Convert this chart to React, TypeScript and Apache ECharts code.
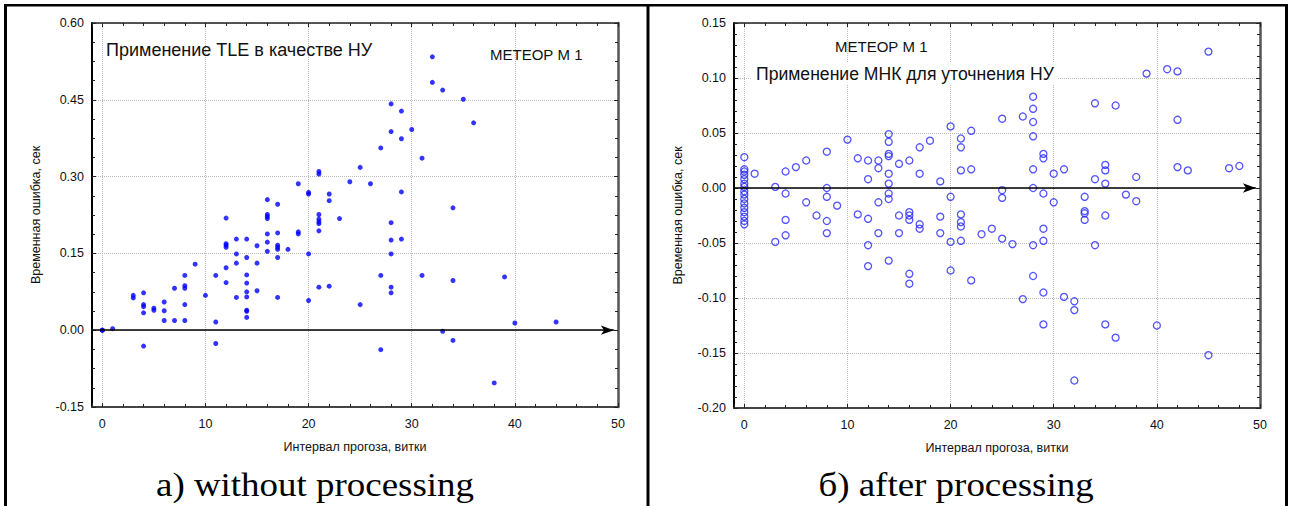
import React, { useEffect, useRef } from "react";
import * as echarts from "echarts";

// a) TLE as initial conditions: [interval (turns), time error (s)]
const tlePoints: [number, number][] = [
  [0, 0], [0, 0], [0, 0], [1, 0.003],
  [3, 0.068], [3, 0.063],
  [4, 0.073], [4, 0.05], [4, 0.046], [4, 0.034], [4, -0.031],
  [5, 0.043], [5, 0.039],
  [6, 0.055], [6, 0.038], [6, 0.019],
  [7, 0.082], [7, 0.019],
  [8, 0.107], [8, 0.087], [8, 0.082], [8, 0.05], [8, 0.019],
  [9, 0.129],
  [10, 0.068],
  [11, 0.107], [11, 0.016], [11, -0.026],
  [12, 0.219], [12, 0.169], [12, 0.166], [12, 0.162], [12, 0.122], [12, 0.093],
  [13, 0.178], [13, 0.149], [13, 0.131], [13, 0.064],
  [14, 0.178], [14, 0.142], [14, 0.108], [14, 0.092], [14, 0.075], [14, 0.065], [14, 0.039], [14, 0.037], [14, 0.025],
  [15, 0.165], [15, 0.131], [15, 0.077],
  [16, 0.255], [16, 0.226], [16, 0.222], [16, 0.218], [16, 0.188], [16, 0.172], [16, 0.154],
  [17, 0.246], [17, 0.19], [17, 0.166], [17, 0.162], [17, 0.158], [17, 0.142], [17, 0.064],
  [18, 0.158],
  [19, 0.286], [19, 0.192], [19, 0.188],
  [20, 0.269], [20, 0.266], [20, 0.149], [20, 0.058],
  [21, 0.31], [21, 0.305], [21, 0.226], [21, 0.217], [21, 0.212], [21, 0.208], [21, 0.194], [21, 0.084],
  [22, 0.266], [22, 0.253], [22, 0.086],
  [23, 0.218],
  [24, 0.29],
  [25, 0.318], [25, 0.05],
  [26, 0.286],
  [27, 0.356], [27, 0.107], [27, -0.038],
  [28, 0.442], [28, 0.388], [28, 0.21], [28, 0.176], [28, 0.149], [28, 0.084], [28, 0.073],
  [29, 0.428], [29, 0.374], [29, 0.27], [29, 0.178],
  [30, 0.392],
  [31, 0.336], [31, 0.107],
  [32, 0.534], [32, 0.484],
  [33, 0.469], [33, -0.002],
  [34, 0.239], [34, 0.097], [34, -0.02],
  [35, 0.451],
  [36, 0.405],
  [38, -0.103],
  [39, 0.104],
  [40, 0.014],
  [44, 0.016],
];

// б) least squares refinement of initial conditions
const mnkPoints: [number, number][] = [
  [0, 0.028], [0, 0.017], [0, 0.015], [0, 0.012], [0, 0.008], [0, 0.004], [0, 0.001], [0, -0.003],
  [0, -0.006], [0, -0.01], [0, -0.014], [0, -0.018], [0, -0.022], [0, -0.026], [0, -0.03], [0, -0.033],
  [1, 0.013],
  [3, 0.001], [3, -0.049],
  [4, 0.015], [4, -0.005], [4, -0.029], [4, -0.043],
  [5, 0.019],
  [6, 0.025], [6, -0.013],
  [7, -0.025],
  [8, 0.033], [8, 0.0], [8, -0.008], [8, -0.03], [8, -0.041],
  [9, -0.016],
  [10, 0.044],
  [11, 0.027], [11, -0.024],
  [12, 0.025], [12, 0.008], [12, -0.028], [12, -0.052], [12, -0.071],
  [13, 0.025], [13, 0.018], [13, -0.013], [13, -0.041],
  [14, 0.049], [14, 0.042], [14, 0.031], [14, 0.029], [14, 0.013], [14, 0.004], [14, -0.005], [14, -0.01], [14, -0.066],
  [15, 0.022], [15, -0.025], [15, -0.041],
  [16, 0.025], [16, -0.022], [16, -0.025], [16, -0.029], [16, -0.078], [16, -0.087],
  [17, 0.037], [17, 0.013], [17, -0.033], [17, -0.037],
  [18, 0.043],
  [19, 0.006], [19, -0.026], [19, -0.041],
  [20, 0.056], [20, -0.008], [20, -0.049], [20, -0.075],
  [21, 0.045], [21, 0.037], [21, 0.016], [21, -0.024], [21, -0.031], [21, -0.035], [21, -0.048],
  [22, 0.052], [22, 0.017], [22, -0.084],
  [23, -0.042],
  [24, -0.037],
  [25, 0.063], [25, -0.002], [25, -0.009], [25, -0.046],
  [26, -0.051],
  [27, 0.065], [27, -0.101],
  [28, 0.083], [28, 0.072], [28, 0.06], [28, 0.047], [28, 0.017], [28, 0.0], [28, -0.052], [28, -0.08],
  [29, 0.031], [29, 0.027], [29, -0.005], [29, -0.037], [29, -0.048], [29, -0.095], [29, -0.124],
  [30, 0.013], [30, -0.013],
  [31, 0.017], [31, -0.099],
  [32, -0.103], [32, -0.111], [32, -0.175],
  [33, -0.008], [33, -0.021], [33, -0.023], [33, -0.029],
  [34, 0.077], [34, 0.008], [34, -0.052],
  [35, 0.021], [35, 0.016], [35, 0.004], [35, -0.025], [35, -0.124],
  [36, 0.075], [36, -0.136],
  [37, -0.006],
  [38, 0.01], [38, -0.012],
  [39, 0.104],
  [40, -0.125],
  [41, 0.108],
  [42, 0.106], [42, 0.062], [42, 0.019],
  [43, 0.016],
  [45, 0.124], [45, -0.152],
  [47, 0.018],
  [48, 0.02],
];

const xRange = [-1, 50];
const xStep = 10;
const leftYRange = [-0.15, 0.6];
const leftYStep = 0.15;
const rightYRange = [-0.2, 0.15];
const rightYStep = 0.05;

const xName = "Интервал прогоза, витки";
const yName = "Временная ошибка, сек";
const satName = "МЕТЕОР М 1";
const leftNote = "Применение TLE в качестве НУ";
const rightNote = "Применение МНК для уточнения НУ";
const leftCaption = "a) without processing";
const rightCaption = "б) after processing";

const SANS = "'Liberation Sans', Arial, sans-serif";
const SERIF = "'Liberation Serif', 'Times New Roman', serif";

export default function App() {
  const ref = useRef<HTMLDivElement>(null);
  useEffect(() => {
    if (!ref.current) return;
    const chart = echarts.init(ref.current, null, { renderer: "svg" });

    const grids = [
      { left: 92, top: 23, width: 526, height: 384 },
      { left: 734, top: 23, width: 526, height: 385 },
    ];

    const mkX = (gi: number, pos: "bottom" | "top") => ({
      type: "value",
      gridIndex: gi,
      position: pos,
      min: xRange[0],
      max: xRange[1],
      splitNumber: 5,
      minInterval: xStep,
      maxInterval: xStep,
      name: pos === "bottom" ? xName : "",
      nameLocation: "middle",
      nameGap: 33,
      nameTextStyle: { fontFamily: SANS, fontSize: 12.5, color: "#111" },
      axisLine: {
        show: true,
        onZero: false,
        lineStyle: pos === "bottom" ? { color: "#444", width: 2 } : { color: "#222", width: 1.5 },
      },
      axisTick: { show: true, inside: true, length: 4, lineStyle: { color: "#222", width: 1 } },
      minorTick: { show: true, splitNumber: 5, length: 3, lineStyle: { color: "#222", width: 1 } },
      axisLabel: {
        show: pos === "bottom",
        showMinLabel: false,
        margin: 10,
        fontFamily: SANS,
        fontSize: 12.5,
        color: "#111",
        formatter: (v: number) => (Math.abs(v % xStep) < 1e-9 ? String(v) : ""),
      },
      splitLine: {
        show: pos === "bottom",
        lineStyle: { color: "#bbb", type: "dotted", width: 1 },
      },
    });

    const mkY = (gi: number, pos: "left" | "right", range: number[], step: number, minor: number) => ({
      type: "value",
      gridIndex: gi,
      position: pos,
      min: range[0],
      max: range[1],
      interval: step,
      name: pos === "left" ? yName : "",
      nameLocation: "middle",
      nameGap: 50,
      nameTextStyle: { fontFamily: SANS, fontSize: 12.5, color: "#111" },
      axisLine: {
        show: true,
        onZero: false,
        lineStyle: pos === "left" ? { color: "#000", width: 2 } : { color: "#555", width: 2.5 },
      },
      axisTick: { show: true, inside: true, length: 4, lineStyle: { color: "#222", width: 1 } },
      minorTick: { show: true, splitNumber: minor, length: 3, lineStyle: { color: "#222", width: 1 } },
      axisLabel: {
        show: pos === "left",
        margin: 8,
        fontFamily: SANS,
        fontSize: 12.5,
        color: "#111",
        formatter: (v: number) => v.toFixed(2),
      },
      splitLine: {
        show: pos === "left",
        lineStyle: { color: "#bbb", type: "dotted", width: 1 },
      },
    });

    const zeroLine = {
      silent: true,
      symbol: ["none", "arrow"],
      symbolSize: [0, 12],
      label: { show: false },
      lineStyle: { color: "#000", width: 1.5, type: "solid" },
      emphasis: { disabled: true },
      data: [[{ coord: [xRange[0], 0] }, { coord: [49.6, 0], symbol: "arrow", symbolSize: [7, 13] }]],
    };

    const text = (x: number, y: number, t: string, size: number, extra: any = {}) => ({
      type: "text",
      x,
      y,
      z: 100,
      style: {
        text: t,
        fontFamily: SANS,
        fontSize: size,
        fill: "#111",
        verticalAlign: "middle",
        ...extra,
      },
    });

    const frame = (x: number, y: number, w: number, h: number) => ({
      type: "rect",
      z: 100,
      shape: { x, y, width: w, height: h },
      style: { fill: "#000" },
    });

    const caption = (x: number, t: string) => ({
      type: "text",
      x,
      y: 485,
      z: 100,
      scaleX: 1.12,
      style: {
        text: t,
        fontFamily: SERIF,
        fontSize: 33,
        fill: "#000",
        align: "center",
        verticalAlign: "middle",
      },
    });

    chart.setOption({
      animation: false,
      backgroundColor: "#fff",
      grid: grids,
      xAxis: [mkX(0, "bottom"), mkX(0, "top"), mkX(1, "bottom"), mkX(1, "top")],
      yAxis: [
        mkY(0, "left", leftYRange, leftYStep, 4),
        mkY(0, "right", leftYRange, leftYStep, 4),
        mkY(1, "left", rightYRange, rightYStep, 5),
        mkY(1, "right", rightYRange, rightYStep, 5),
      ],
      series: [
        {
          type: "scatter",
          xAxisIndex: 0,
          yAxisIndex: 0,
          data: tlePoints,
          symbol: "circle",
          symbolSize: 5,
          itemStyle: { color: "#0000ff" },
          markLine: zeroLine,
          z: 3,
        },
        {
          type: "scatter",
          xAxisIndex: 2,
          yAxisIndex: 2,
          data: mnkPoints,
          symbol: "circle",
          symbolSize: 7,
          itemStyle: { color: "rgba(0,0,0,0)", borderColor: "#2727ff", borderWidth: 1.3 },
          markLine: zeroLine,
          z: 3,
        },
      ],
      graphic: [
        frame(4, 4, 1284, 2.5),
        frame(4, 4, 3, 502),
        frame(646.5, 4, 3, 502),
        frame(1285, 4, 3, 502),
        text(106, 50, leftNote, 18),
        text(490, 54, satName, 15),
        text(835, 46, satName, 15),
        text(752, 74, rightNote, 17.6, { backgroundColor: "#fff", padding: [2, 4, 2, 4] }),
        caption(315, leftCaption),
        caption(956, rightCaption),
      ],
    });
    return () => chart.dispose();
  }, []);
  return (
    <div
      ref={ref}
      style={{ position: "absolute", left: 0, top: 0, width: 1290, height: 506 }}
    />
  );
}
